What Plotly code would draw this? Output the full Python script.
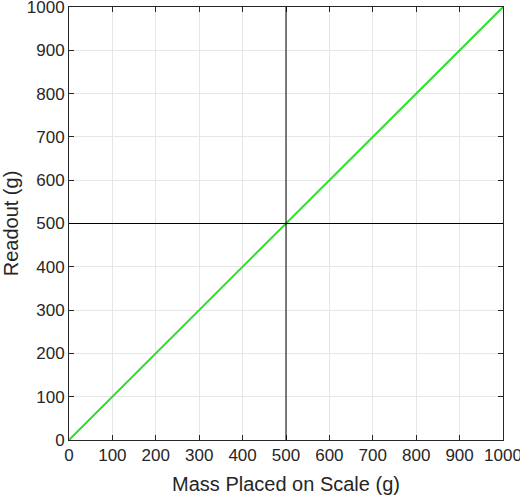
import plotly.graph_objects as go

# readout of the scale vs. mass placed on it
mass_g = [0, 1000]
readout_g = [0, 1000]
ref_mass = 500
ref_readout = 500
ticks = list(range(0, 1001, 100))

fig = go.Figure()
fig.add_trace(go.Scatter(x=mass_g, y=readout_g, mode="lines",
                         line=dict(color="#2ee02e", width=2), showlegend=False))

# black cross-hair at 500 g
fig.add_vline(x=ref_mass, line=dict(color="#000000", width=1))
fig.add_hline(y=ref_readout, line=dict(color="#000000", width=1))

axis_style = dict(
    range=[0, 1000], tickvals=ticks, ticks="inside", ticklen=5,
    tickcolor="#262626", showline=True, linecolor="#262626", linewidth=1,
    mirror="ticks", showgrid=True, gridcolor="#e6e6e6", gridwidth=1,
    zeroline=False, tickfont=dict(size=17, color="#262626"), automargin=False,
    ticklabeloverflow="allow",
)
fig.update_xaxes(title=dict(text="Mass Placed on Scale (g)", font=dict(size=20, color="#262626"), standoff=12),
                 **axis_style)
fig.update_yaxes(title=dict(text="Readout (g)", font=dict(size=20, color="#262626"), standoff=5),
                 **axis_style)

fig.update_layout(
    width=520, height=499,
    margin=dict(l=69, r=17, t=7, b=59),
    plot_bgcolor="white", paper_bgcolor="white",
    font=dict(family="Liberation Sans, Arial, sans-serif", color="#262626"),
)

# page has a default 8px body margin; drop it so the figure sits at the corner
fig.write_html("out.html", config={"displayModeBar": False},
               post_script="document.body.style.margin='0';")
